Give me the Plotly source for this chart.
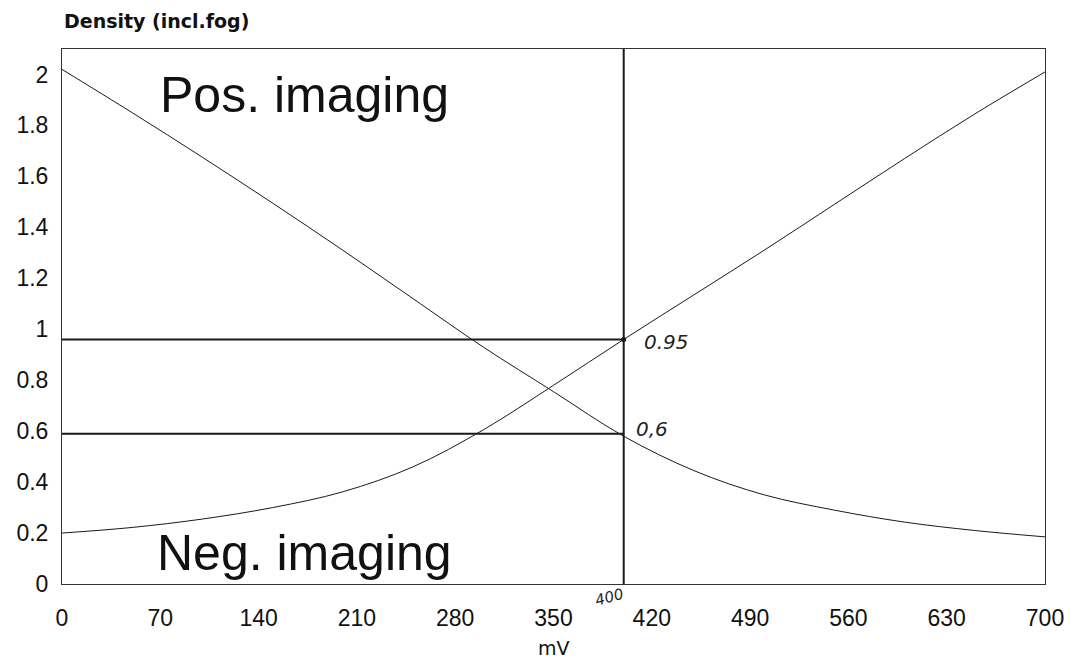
import plotly.graph_objects as go

# mV values where both curves were read
mv = [0, 50, 100, 150, 200, 250, 300, 350, 400, 450, 500, 550, 600, 650, 700]

# density of the falling curve (positive imaging)
dens_pos = [2.02, 1.85, 1.675, 1.495, 1.31, 1.12, 0.93, 0.755, 0.58, 0.445, 0.35, 0.29, 0.243, 0.21, 0.185]

# density of the rising curve (negative imaging)
dens_neg = [0.20, 0.222, 0.255, 0.30, 0.362, 0.46, 0.605, 0.78, 0.96, 1.135, 1.31, 1.49, 1.67, 1.845, 2.01]

# working point
work_mv = 400
level_high = 0.96
level_low = 0.59

x_ticks = [0, 70, 140, 210, 280, 350, 420, 490, 560, 630, 700]
y_ticks = [0, 0.2, 0.4, 0.6, 0.8, 1, 1.2, 1.4, 1.6, 1.8, 2]
y_tick_text = ["0", "0.2", "0.4", "0.6", "0.8", "1", "1.2", "1.4", "1.6", "1.8", "2"]

ink = "#1a1a1a"

fig = go.Figure()

# the two density curves
fig.add_trace(go.Scatter(x=mv, y=dens_pos, mode="lines", line=dict(color=ink, width=1, shape="spline"),
                         showlegend=False))
fig.add_trace(go.Scatter(x=mv, y=dens_neg, mode="lines", line=dict(color=ink, width=1, shape="spline"),
                         showlegend=False))

# reading lines
fig.add_trace(go.Scatter(x=[0, work_mv], y=[level_high, level_high], mode="lines",
                         line=dict(color=ink, width=2), showlegend=False))
fig.add_trace(go.Scatter(x=[0, work_mv], y=[level_low, level_low], mode="lines",
                         line=dict(color=ink, width=2), showlegend=False))
fig.add_trace(go.Scatter(x=[work_mv, work_mv], y=[0, 2.1], mode="lines",
                         line=dict(color=ink, width=2), showlegend=False))
fig.add_trace(go.Scatter(x=[work_mv], y=[level_high], mode="markers",
                         marker=dict(color=ink, size=5), showlegend=False))

big = dict(family="Liberation Sans, Arial, sans-serif", size=50, color="#111")
hand = dict(family="DejaVu Sans, sans-serif", size=20, color="#222", style="italic")

fig.add_annotation(x=173, y=1.92, text="Pos. imaging", showarrow=False, font=big)
fig.add_annotation(x=173, y=0.12, text="Neg. imaging", showarrow=False, font=big)
fig.add_annotation(x=work_mv, y=level_high, text="0.95", showarrow=False, font=hand,
                   xanchor="left", xshift=18, yshift=-3)
fig.add_annotation(x=work_mv, y=level_low, text="0,6", showarrow=False, font=hand,
                   xanchor="left", xshift=10, yshift=5)
fig.add_annotation(x=work_mv, y=0, text="400", showarrow=False, textangle=-15,
                   font=dict(family="DejaVu Sans, sans-serif", size=15, color="#222", style="italic"),
                   xshift=-14, yshift=-13)

fig.add_annotation(x=0, xref="paper", y=1.052, yref="paper", text="Density (incl.fog)",
                   showarrow=False, xanchor="left", yanchor="middle",
                   font=dict(family="DejaVu Sans, sans-serif", size=19, color="#111", weight="bold"))
fig.add_annotation(x=0.5, xref="paper", y=-0.12, yref="paper", text="mV", showarrow=False,
                   yanchor="middle",
                   font=dict(family="DejaVu Sans, sans-serif", size=19, color="#111"))

axis_common = dict(showgrid=False, zeroline=False, showline=True, mirror=True,
                   linecolor="#333", linewidth=1, ticks="", automargin=False,
                   tickfont=dict(family="Liberation Sans, Arial, sans-serif", size=23, color="#111"))

fig.update_xaxes(range=[0, 700], tickvals=x_ticks, ticklabelstandoff=13, **axis_common)
fig.update_yaxes(range=[0, 2.1], tickvals=y_ticks, ticktext=y_tick_text, ticklabelstandoff=8,
                 **axis_common)

# page has an 8px body margin, so the figure is sized to fit inside the window
fig.update_layout(
    width=1058,
    height=653,
    margin=dict(l=54, r=21, t=41, b=77),
    plot_bgcolor="white",
    paper_bgcolor="white",
)

fig.write_html("out.html")
